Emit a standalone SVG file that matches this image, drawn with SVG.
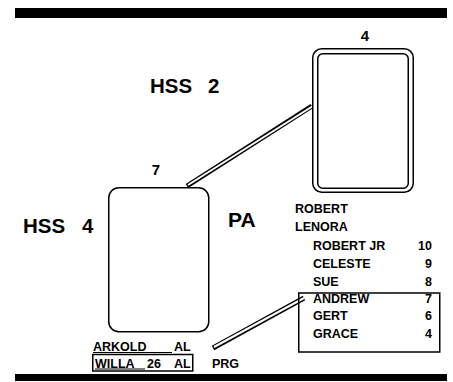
<svg xmlns="http://www.w3.org/2000/svg" width="453" height="382" viewBox="0 0 453 382">
<style>
.t{font-family:"Liberation Sans",Arial,sans-serif;font-weight:bold;fill:#000}
.big{font-size:20.5px}
.lbl{font-size:15px}
.sm{font-size:12.5px}
.ln{fill:none;stroke:#000;stroke-width:1.5}
.dblo{stroke:#000;stroke-width:5;fill:none;stroke-linecap:butt}
.dbli{stroke:#fff;stroke-width:2;fill:none;stroke-linecap:butt}
</style>
<rect x="0" y="0" width="453" height="382" fill="#fff"/>
<rect x="15" y="8" width="432" height="10" fill="#000"/>
<rect x="15" y="374" width="432" height="7" fill="#000"/>

<g id="connectors">
  <line class="dblo" x1="187" y1="186" x2="312" y2="106"/>
  <line class="dbli" x1="188" y1="185" x2="313" y2="106"/>
  <line class="dblo" x1="213" y1="348" x2="304" y2="298"/>
  <line class="dbli" x1="214" y1="347" x2="304" y2="298"/>
</g>

<g id="node-4">
  <rect class="ln" x="312.75" y="48.75" width="100.5" height="143.5" rx="9"/>
  <rect class="ln" x="317.75" y="53.75" width="90.5" height="134.5" rx="5"/>
  <text class="t lbl" x="365" y="41" text-anchor="middle">4</text>
</g>

<g id="node-7">
  <rect class="ln" x="108.75" y="187.75" width="100" height="144" rx="10"/>
  <text class="t lbl" x="156" y="175" text-anchor="middle">7</text>
</g>

<g id="labels">
  <text class="t big" x="150" y="93">HSS <tspan x="208">2</tspan></text>
  <text class="t big" x="23" y="233">HSS <tspan x="82">4</tspan></text>
  <text class="t" style="font-size:21px" x="228" y="227">PA</text>
</g>

<g id="family-list">
  <text class="t sm" x="295" y="213">ROBERT</text>
  <text class="t sm" x="295" y="231">LENORA</text>
  <text class="t sm" x="313" y="250">ROBERT JR</text>
  <text class="t sm" x="432" y="250" text-anchor="end">10</text>
  <text class="t sm" x="313" y="268">CELESTE</text>
  <text class="t sm" x="432" y="268" text-anchor="end">9</text>
  <text class="t sm" x="313" y="286">SUE</text>
  <text class="t sm" x="432" y="286" text-anchor="end">8</text>
  <rect class="ln" x="298.75" y="293" width="141" height="59"/>
  <text class="t sm" x="313" y="303">ANDREW</text>
  <text class="t sm" x="432" y="303" text-anchor="end">7</text>
  <text class="t sm" x="313" y="320">GERT</text>
  <text class="t sm" x="432" y="320" text-anchor="end">6</text>
  <text class="t sm" x="313" y="338">GRACE</text>
  <text class="t sm" x="432" y="338" text-anchor="end">4</text>
</g>

<g id="bottom-labels">
  <text class="t sm" x="93" y="351">ARKOLD</text>
  <text class="t sm" x="174" y="351">AL</text>
  <line x1="93" y1="352.5" x2="172" y2="352.5" stroke="#000" stroke-width="1.2"/>
  <rect class="ln" x="92.75" y="354.5" width="100" height="16.5"/>
  <text class="t sm" x="95" y="368">WILLA</text>
  <line x1="95" y1="369" x2="145" y2="369" stroke="#000" stroke-width="1.2"/>
  <text class="t sm" x="147" y="368">26</text>
  <text class="t sm" x="174" y="368">AL</text>
  <text class="t sm" x="212" y="368">PRG</text>
</g>
</svg>
